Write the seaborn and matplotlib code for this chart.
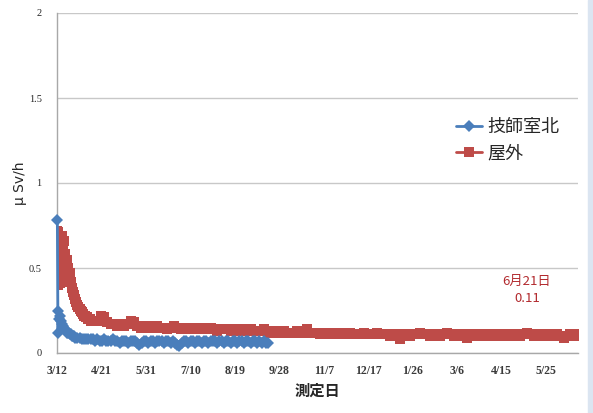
import numpy as np
import pandas as pd
import matplotlib
matplotlib.use("Agg")
import matplotlib.pyplot as plt
from matplotlib.patches import Rectangle
import seaborn as sns

# --- data (days after 2011-03-12, μSv/h) ---
start = pd.Timestamp("2011-03-12")

blue_name = "技師室北"
blue_days_early = [0, 0.6, 1, 1.5, 2, 3, 4, 5, 6, 7, 8, 9, 10, 11, 12, 13, 14, 15,
                   16, 18, 20, 22, 24, 26, 28, 30]
blue_vals_early = [0.78, 0.12, 0.25, 0.20, 0.22, 0.19, 0.17, 0.16, 0.15, 0.14, 0.13,
                   0.12, 0.12, 0.11, 0.11, 0.10, 0.10, 0.10, 0.09, 0.09, 0.09, 0.08,
                   0.08, 0.08, 0.08, 0.08]
blue_days_late = list(np.arange(32, 191, 2))
blue_vals_late = [0.08, 0.07, 0.08, 0.07, 0.07, 0.08, 0.07, 0.07, 0.07, 0.08,
                  0.07, 0.07, 0.06, 0.07, 0.07, 0.07, 0.06, 0.07, 0.07, 0.07,
                  0.06, 0.05, 0.06, 0.07, 0.07, 0.06, 0.07, 0.07, 0.06, 0.07,
                  0.07, 0.07, 0.06, 0.07, 0.07, 0.06, 0.07, 0.06, 0.05, 0.04,
                  0.06, 0.07, 0.07, 0.06, 0.07, 0.07, 0.06, 0.07, 0.07, 0.06,
                  0.07, 0.07, 0.06, 0.07, 0.07, 0.07, 0.06, 0.07, 0.07, 0.06,
                  0.07, 0.07, 0.06, 0.07, 0.07, 0.06, 0.07, 0.07, 0.06, 0.07,
                  0.07, 0.06, 0.07, 0.07, 0.06, 0.07, 0.06, 0.07, 0.06, 0.06]

red_name = "屋外"
red_days_early = [0, 0.5, 1, 1.5, 2, 2.5, 3, 4, 4.5, 5, 6, 6.5, 7, 8, 8.5, 9, 10,
                  11, 12, 13, 14, 15, 16, 17, 18, 19, 20, 21, 22, 23, 24, 25, 26,
                  27, 28, 29, 30]
red_vals_early = [0.72, 0.40, 0.71, 0.52, 0.55, 0.41, 0.50, 0.69, 0.48, 0.60, 0.66,
                  0.42, 0.58, 0.53, 0.45, 0.55, 0.50, 0.47, 0.42, 0.38, 0.36, 0.34,
                  0.32, 0.30, 0.28, 0.27, 0.26, 0.25, 0.24, 0.23, 0.22, 0.22, 0.21,
                  0.21, 0.20, 0.20, 0.19]
red_days_late = list(np.arange(33, 466, 3)) + [467]
red_vals_late = [0.19, 0.19, 0.22, 0.21, 0.18, 0.17, 0.17, 0.16, 0.17, 0.16,
                 0.17, 0.19, 0.18, 0.16, 0.15, 0.15, 0.16, 0.15, 0.15, 0.16,
                 0.15, 0.15, 0.14, 0.15, 0.16, 0.15, 0.14, 0.15, 0.15, 0.14,
                 0.15, 0.14, 0.14, 0.15, 0.14, 0.15, 0.14, 0.13, 0.14, 0.14,
                 0.14, 0.13, 0.14, 0.14, 0.13, 0.14, 0.13, 0.14, 0.13, 0.13,
                 0.13, 0.14, 0.13, 0.12, 0.13, 0.13, 0.12, 0.13, 0.12, 0.12,
                 0.12, 0.13, 0.12, 0.12, 0.14, 0.12, 0.12, 0.12, 0.11, 0.12,
                 0.12, 0.11, 0.12, 0.12, 0.11, 0.12, 0.11, 0.12, 0.11, 0.11,
                 0.11, 0.12, 0.11, 0.11, 0.11, 0.12, 0.11, 0.11, 0.11, 0.10,
                 0.11, 0.11, 0.08, 0.11, 0.11, 0.10, 0.11, 0.11, 0.12, 0.11,
                 0.11, 0.10, 0.11, 0.11, 0.10, 0.11, 0.12, 0.11, 0.10, 0.11,
                 0.11, 0.10, 0.09, 0.11, 0.10, 0.11, 0.11, 0.10, 0.11, 0.11,
                 0.10, 0.11, 0.11, 0.10, 0.11, 0.11, 0.10, 0.11, 0.10, 0.11,
                 0.12, 0.11, 0.10, 0.11, 0.11, 0.10, 0.10, 0.11, 0.10, 0.11,
                 0.10, 0.09, 0.10, 0.11, 0.10,
                 0.11]

tick_labels = ["3/12", "4/21", "5/31", "7/10", "8/19", "9/28", "11/7", "12/17",
               "1/26", "3/6", "4/15", "5/25"]
y_ticks = [0, 0.5, 1, 1.5, 2]
y_tick_labels = ["0", "0.5", "1", "1.5", "2"]

blue_color = "#4a7ebb"
red_color = "#be4b48"

def to_dates(days):
    return start + pd.to_timedelta(np.asarray(days, dtype=float), unit="D")

blue = pd.DataFrame({"date": to_dates(blue_days_early + blue_days_late),
                     "val": blue_vals_early + blue_vals_late})
red = pd.DataFrame({"date": to_dates(red_days_early + red_days_late),
                    "val": red_vals_early + red_vals_late})

sns.set_style("white")
plt.rcParams["font.family"] = ["Noto Sans CJK JP", "DejaVu Sans"]

fig = plt.figure(figsize=(5.93, 4.13), dpi=100)
ax = fig.add_axes([57 / 593, 1 - 353 / 413, 521 / 593, 340 / 413])

sns.lineplot(data=blue, x="date", y="val", ax=ax, color=blue_color, marker="D",
             markersize=6.5, markeredgewidth=0, linewidth=2, label=blue_name,
             sort=False, clip_on=False, zorder=3)
sns.lineplot(data=red, x="date", y="val", ax=ax, color=red_color, marker="s",
             markersize=7.5, markeredgewidth=0, linewidth=2, label=red_name,
             sort=False, zorder=2)

ax.set_ylim(0, 2)
ax.set_xlim(to_dates([-0.3])[0], to_dates([469])[0])
ax.set_yticks(y_ticks)
ax.set_yticklabels(y_tick_labels, family="Liberation Serif", fontsize=7.5)
xt = to_dates(np.arange(0, 441, 40))
ax.set_xticks(xt)
ax.set_xticklabels(tick_labels, family="Liberation Serif", fontsize=8.5,
                   fontweight="bold", color="#3a3a3a")
ax.tick_params(axis="y", length=0, pad=11)
ax.tick_params(axis="x", length=4, width=0.8, color="#a0a0a0", pad=5, direction="out")
ax.yaxis.grid(True, color="#c8c8c8", linewidth=1)
ax.xaxis.grid(False)
for s in ["top", "right"]:
    ax.spines[s].set_visible(False)
for s in ["left", "bottom"]:
    ax.spines[s].set_color("#a8a8a8")
    ax.spines[s].set_linewidth(1)

ax.set_xlabel("測定日", fontsize=11, fontweight="bold", labelpad=4)
ax.set_ylabel("μ Sv/h", fontsize=10, labelpad=1, family=["DejaVu Sans"])

leg = ax.legend(loc="upper left", bbox_to_anchor=(440 / 593, 1 - 102 / 413),
                bbox_transform=fig.transFigure, frameon=False, fontsize=13,
                handlelength=1.4, handletextpad=0.3, labelspacing=0.45)

fig.text(527 / 593, 1 - 290 / 413, "6月21日\n0.11", ha="center", va="center",
         color="#b22a2e", fontsize=9.5, linespacing=1.35, multialignment="center")

fig.patches.append(Rectangle((588 / 593, 0), 5 / 593, 1, transform=fig.transFigure,
                             color="#dbe5f1", zorder=0))

fig.savefig("out.png", dpi=100)
